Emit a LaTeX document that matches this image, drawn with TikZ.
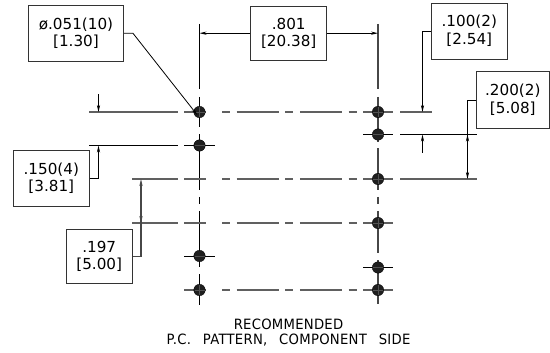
\documentclass[tikz,border=0pt]{standalone}
\usepackage{fontspec}
\setmainfont{DejaVu Sans}
\usetikzlibrary{arrows.meta}
\definecolor{lg}{HTML}{606060}
\tikzset{
  x=1pt,y=-1pt,
  dimbox/.style={draw=black!80,line width=.8pt,fill=white,inner sep=0pt,align=center,font=\fontsize{15.2}{17.6}\selectfont},
  hole/.style={circle,draw=black,fill=black!88,line width=.3pt,minimum size=11.5pt,inner sep=0pt},
  cl/.style={draw=lg,line width=1.4pt},
  thin line/.style={draw=black,line width=.8pt},
  grey line/.style={draw=black!72,line width=1.4pt},
  rowdash/.style={cl,dash pattern=on 22pt off 16pt on 8pt off 6.7pt on 42pt off 6.7pt on 7.7pt off 6.7pt on 42pt off 6.7pt on 8pt off 6.5pt on 31pt off 20pt},
  tip/.style={-{Stealth[length=7pt,width=3.2pt]}},
  lbl/.style={inner sep=0pt,anchor=base,font=\fontsize{14.2}{14.2}\selectfont\addfontfeature{LetterSpace=2},xscale=.93,transform shape},
}
\begin{document}
\begin{tikzpicture}
\useasboundingbox (0,0) rectangle (550,353);
% holes
\foreach \n/\y in {a/112,b/145.5,c/256,d/290}
  \coordinate (l\n) at (199.5,\y);
\foreach \n/\y in {a/112,b/134.5,c/179,d/223,e/267.5,f/290}
  \coordinate (r\n) at (378,\y);
% vertical centre lines
\draw[thin line] (199.5,24)--(199.5,89.5) (199.5,97)--(199.5,127) (199.5,134.5)--(199.5,190)
  (199.5,197)--(199.5,204) (199.5,211)--(199.5,267) (199.5,274)--(199.5,305);
\draw[grey line] (378,24)--(378,89.5) (378,97)--(378,141.7) (378,148.3)--(378,190.5)
  (378,197)--(378,204.5) (378,211)--(378,253) (378,260)--(378,304);
% horizontal lines
\draw[rowdash] ([xshift=-15.5pt]la) -- ([xshift=15.3pt]ra);
\draw[rowdash] (184,179) -- ([xshift=15.3pt]rc);
\draw[rowdash] (184,223) -- ([xshift=15.3pt]rd);
\draw[rowdash] ([xshift=-15.5pt]ld) -- ([xshift=15.3pt]rf);
\draw[cl] (89,112)--(178,112);
\draw[cl] (400,112)--(431.7,112);
\draw[thin line] (89,145.5)--(178,145.5);
\draw[thin line] (184,145.5)--(214.7,145.5);
\draw[thin line] (184,256.5)--(214.7,256.5);
\draw[thin line] (363.3,134.5)--(393.3,134.5);
\draw[thin line] (400,134.5)--(476.7,134.5);
\draw[cl] (400,179)--(476.7,179);
\draw[cl] (132,179)--(178,179);
\draw[cl] (132,223)--(178,223);
\draw[thin line] (363.3,267.5)--(393.3,267.5);
% holes on top
\foreach \n in {la,lb,lc,ld,ra,rb,rc,rd,re,rf}
  \node[hole] (h\n) at (\n) {};
\foreach \n in {la,ld,ra,rc,rd,rf}
  \draw[draw=black!68,line width=.35pt] ([xshift=-5pt]\n)--([xshift=5pt]\n) ([yshift=-5pt]\n)--([yshift=5pt]\n);
\foreach \n in {lb,lc,rb,re}
  \draw[draw=black!68,line width=.5pt] ([xshift=-5pt]\n)--([xshift=5pt]\n);
% boxes
\node[dimbox,minimum width=95.4pt,minimum height=56.7pt] (dia) at (76,33.3) {ø.051(10)\\{}[1.30]};
\node[dimbox,minimum width=76pt,minimum height=54.3pt] (pitch) at (288.7,33.2) {.801\\{}[20.38]};
\node[dimbox,minimum width=76pt,minimum height=56pt] (p100) at (469.3,31) {.100(2)\\{}[2.54]};
\node[dimbox,minimum width=73pt,minimum height=56.6pt] (p200) at (512.8,100) {.200(2)\\{}[5.08]};
\node[dimbox,minimum width=76pt,minimum height=56.7pt] (p150) at (51.3,178.3) {.150(4)\\{}[3.81]};
\node[dimbox,minimum width=66.3pt,minimum height=54.4pt] (p197) at (99.2,256.5) {.197\\{}[5.00]};
% leader corners
\coordinate (k1) at (133,33.3);
\coordinate (k3) at (422.5,31);
\coordinate (k4) at (467.5,100);
\coordinate (k5) at (98.5,178.3);
\coordinate (k6) at (141,256.5);
% leaders and dimension lines
\draw[thin line,tip] (dia.east) -- (k1) -- ([shift={(-2.2pt,-3pt)}]la);
\draw[thin line,tip] (pitch.west) -- (199.5,33.2);
\draw[thin line,tip] (pitch.east) -- (378,33.2);
\draw[thin line,tip] (p100.west) -- (k3) -- (422.5,112);
\draw[thin line,tip] (422.5,153) -- (422.5,134.5);
\draw[thin line,tip] (p200.west) -- (k4) -- (467.5,179);
\draw[thin line,tip] (467.5,160) -- (467.5,134.5);
\draw[thin line,tip] (98.5,94.3) -- (98.5,112);
\draw[thin line,tip] (p150.east) -- (k5) -- (98.5,145.5);
\draw[grey line,tip] (p197.east) -- (k6) -- (141,179);
\draw[grey line,tip] (141,200) -- (141,223);
% title
\node[lbl] (t1) at (288.5,329.3) {RECOMMENDED};
\node[lbl] (t2) at (288.5,344.3) {P.C.\hspace{.9em}PATTERN,\hspace{.9em}COMPONENT\hspace{.9em}SIDE};
\end{tikzpicture}
\end{document}
